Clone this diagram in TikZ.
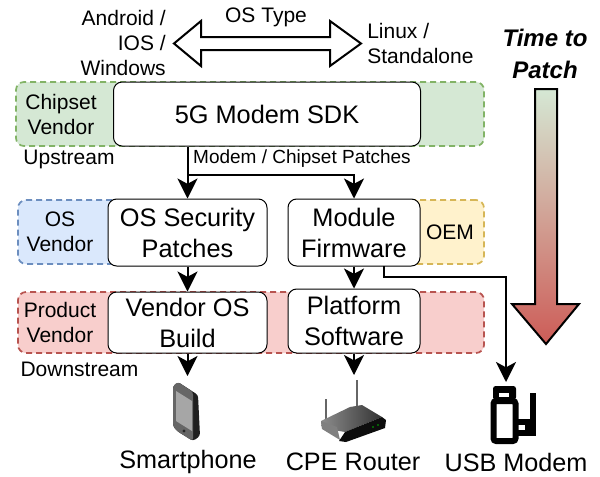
\documentclass[tikz,border=0pt]{standalone}
\usepackage{fontspec}
\setmainfont{Liberation Sans}
\usetikzlibrary{arrows.meta}
\definecolor{greenfill}{HTML}{D5E8D4}
\definecolor{greenline}{HTML}{82B366}
\definecolor{bluefill}{HTML}{DAE8FC}
\definecolor{blueline}{HTML}{6C8EBF}
\definecolor{yellowfill}{HTML}{FFF2CC}
\definecolor{yellowline}{HTML}{D6B656}
\definecolor{redfill}{HTML}{F8CECC}
\definecolor{redline}{HTML}{B85450}
\definecolor{tipred}{HTML}{CD5C57}
\newcommand{\boxfont}{\fontsize{19}{23.25}\selectfont}
\newcommand{\labelfont}{\fontsize{15.75}{18.75}\selectfont}
\tikzstyle{band} = [rectangle, rounded corners=6pt, dashed, dash pattern=on 4.5pt off 3pt, line width=1.3pt, minimum height=48pt, inner sep=0pt]
\tikzstyle{stage} = [rectangle, rounded corners=6.5pt, draw=black, fill=white, line width=0.75pt, align=center, inner sep=0pt, font=\boxfont]
\tikzstyle{tag} = [align=center, inner sep=0pt, font=\labelfont]
\tikzstyle{device} = [inner sep=0pt, font=\fontsize{18.9}{22}\selectfont]
\tikzstyle{arrow} = [line width=1.5pt, -{Stealth[length=15pt,width=15pt,inset=4pt]}]
\tikzstyle{wide} = [draw=black, line width=1.5pt, line join=miter]
\begin{document}
\begin{tikzpicture}[x=0.75pt,y=-0.75pt]
\useasboundingbox (0,0) rectangle (600,476);

% vendor bands
\node (chipsetband) [band, draw=greenline, fill=greenfill, minimum width=351pt] at (250,114) {};
\node (osband) [band, draw=blueline, fill=bluefill, minimum width=76.5pt] at (69,232) {};
\node (oemband) [band, draw=yellowline, fill=yellowfill, minimum width=63pt] at (442,232) {};
\node (productband) [band, draw=redline, fill=redfill, minimum width=349.5pt, minimum height=45.75pt] at (251,322.5) {};

% stages
\node (sdk) [stage, minimum width=230.25pt, minimum height=48pt] at (267,114) {5G Modem SDK};
\node (ospatch) [stage, minimum width=119.25pt, minimum height=50.25pt] at (187.5,232.5) {OS Security\\Patches};
\node (firmware) [stage, minimum width=99pt, minimum height=50.25pt] at (354,232.5) {Module\\Firmware};
\node (osbuild) [stage, minimum width=119.25pt, minimum height=45.75pt] at (187.5,322.5) {Vendor OS\\Build};
\node (platform) [stage, minimum width=99pt, minimum height=48pt] at (354,321) {Platform\\Software};

% labels
\node (android) [tag, align=right, anchor=east] at (166,43) {Android /\\IOS /\\Windows};
\node (ostype) [tag] at (266,17) {OS Type};
\node (linux) [tag, align=left, anchor=west] at (367,43) {Linux /\\Standalone};
\node (chipset) [tag] at (61,114) {Chipset\\Vendor};
\node (upstream) [tag] at (69,159) {Upstream};
\node (chippatch) [tag, font=\fontsize{14.25}{17}\selectfont] at (302,159) {Modem / Chipset Patches};
\node (osvendor) [tag] at (60,232) {OS\\Vendor};
\node (oem) [tag] at (450,232) {OEM};
\node (product) [tag] at (60,322) {Product\\Vendor};
\node (downstream) [tag] at (79.5,369) {Downstream};
\node (timepatch) [tag, font=\fontsize{18}{24}\selectfont\bfseries\itshape] at (545,54) {Time to\\Patch};
\node (smartphone) [device] at (188,462) {Smartphone};
\node (cpe) [device] at (353,462) {CPE Router};
\node (usb) [device] at (516,462) {USB Modem};

% connector ends
\coordinate (branch) at (187.5,175);
\coordinate (fwout) at (384,266);
\coordinate (phonetop) at (187.5,376);
\coordinate (routertop) at (354,375);
\coordinate (usbtop) at (506,382);

\draw [arrow] (sdk.south -| ospatch.north) -- (ospatch.north);
\draw [arrow] (branch) -| (firmware.north);
\draw [arrow] (ospatch) -- (osbuild);
\draw [arrow] (firmware) -- (platform);
\draw [arrow] (osbuild) -- (phonetop);
\draw [arrow] (platform.south) -- (routertop);
\draw [arrow] (fwout) |- (430,277) -| (usbtop);

% big arrows
\draw [wide] (174,43.5) -- (201,21) -- (201,37) -- (330,37) -- (330,21) -- (361,43.5) -- (330,66) -- (330,50) -- (201,50) -- (201,66) -- cycle;
\draw [wide, top color=greenfill, bottom color=tipred] (535,89) -- (557,89) -- (557,304) -- (579,304) -- (546,344) -- (512,304) -- (535,304) -- cycle;

% smartphone
\fill [black!88, rounded corners=2pt] (173,386) -- (178,382) -- (198,395) -- (200,436) -- (193,441) -- (177,431) -- (173,426) -- cycle;
\fill [black!60, rounded corners=2pt] (173,386) -- (178,382) -- (193,392) -- (193,441) -- (177,431) -- (173,426) -- cycle;
\fill [black!35] (176,391) -- (192,401) -- (192,431) -- (176,421) -- cycle;
\fill [black!85] (184,431) circle (1.6);

% router
\draw [black!60, line width=1.2pt] (326,399) -- (326,424);
\draw [black!60, line width=1.2pt] (357,380) -- (357,410);
\shade [left color=black!45, right color=black!80] (321,421) -- (350,407) -- (362,405) -- (382,417) -- (345,432) -- (322,428) -- cycle;
\fill [black!95] (345,432) -- (382,417) -- (386,420) -- (385,428) -- (346,442) -- (339,441) -- cycle;
\fill [black!50] (321,421) -- (337,427) -- (340,440) -- (322,429) -- cycle;
\fill [green!70!black] (373,427) circle (0.8) (378,425) circle (0.8);

% usb modem
\draw [black, line width=4.5pt, rounded corners=2pt] (493.5,401) rectangle (515.5,441);
\fill [black, rounded corners=2pt] (493,386) rectangle (516,400);
\fill [white] (499,393) rectangle (509,397);
\draw [black, line width=4.5pt] (533,393) -- (533,433) -- (518,433);
\draw [black, line width=4.5pt] (518,422) -- (528,422) -- (528,433);

\end{tikzpicture}
\end{document}
